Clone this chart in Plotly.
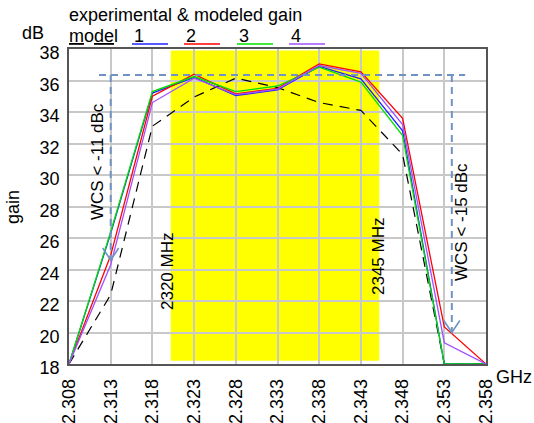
import plotly.graph_objects as go

# Frequency points (GHz) and gain (dB) for the four models plus measurement
freq_ghz = [2.308, 2.313, 2.318, 2.323, 2.328, 2.333, 2.338, 2.343, 2.348, 2.353, 2.358]
gain_model1 = [18, 26.3, 35.2, 36.2, 35.05, 35.4, 36.9, 36.1, 32.8, 18, 18]
gain_model2 = [18, 24.9, 35.0, 36.4, 35.15, 35.5, 37.05, 36.55, 33.6, 20.35, 18]
gain_model3 = [18, 26.4, 35.3, 36.25, 35.3, 35.65, 36.85, 35.9, 32.5, 18, 18]
gain_model4 = [18, 24.3, 34.6, 36.15, 35.1, 35.45, 36.95, 36.45, 33.2, 19.35, 18]
gain_measured = [18, 22.4, 33.1, 34.95, 36.15, 35.55, 34.6, 34.1, 31.3, 18, 18]

model_names = ["1", "2", "3", "4"]
model_colors = ["#2020ff", "#ff0000", "#00e000", "#a050ff"]

# Pass band and WCS limit markers
band_start_ghz, band_stop_ghz = 2.3202, 2.3452
band_low_db, band_high_db = 18.2, 37.9
wcs_level_db = 36.35
wcs_left = (2.3116, 2.313, 24.6)     # line start, arrow x, arrow tip (dB)
wcs_right = (2.3555, 2.3539, 20.0)

FONT = "Liberation Sans, Arial, sans-serif"
W, H = 534, 423
L, R, T, B = 69, 48, 49, 59
PW, PH = W - L - R, H - T - B


def px(x):
    return (x - L) / PW


def py(y):
    return (H - B - y) / PH


fig = go.Figure()

fig.add_trace(go.Scatter(x=freq_ghz, y=gain_measured, mode="lines",
                         line=dict(color="#000000", width=1.2, dash="10px,7px"),
                         showlegend=False))
for vals, col in zip([gain_model1, gain_model2, gain_model3, gain_model4], model_colors):
    fig.add_trace(go.Scatter(x=freq_ghz, y=vals, mode="lines",
                             line=dict(color=col, width=1.3), showlegend=False))

shapes = []
# yellow pass band
shapes.append(dict(type="rect", xref="x", yref="y", layer="below",
                   x0=band_start_ghz, x1=band_stop_ghz, y0=band_low_db, y1=band_high_db,
                   fillcolor="#ffff00", line=dict(width=0)))

dash_style = dict(color="#6f93c4", width=2, dash="7px,5px")
shapes.append(dict(type="line", xref="x", yref="y", x0=wcs_left[0], x1=wcs_right[0],
                   y0=wcs_level_db, y1=wcs_level_db, line=dash_style))
for _, ax_x, tip in (wcs_left, wcs_right):
    shapes.append(dict(type="line", xref="x", yref="y", x0=ax_x, x1=ax_x,
                       y0=wcs_level_db, y1=tip, line=dash_style))
    shapes.append(dict(type="path", xref="x", yref="y", xsizemode="pixel", ysizemode="pixel",
                       xanchor=ax_x, yanchor=tip, path="M -8,12 L 0,0 L 8,12",
                       line=dict(color="#6f93c4", width=1.6)))

# legend underlines
legend_x = [132, 184, 237, 289]
for lx, col in zip(legend_x, model_colors):
    shapes.append(dict(type="line", xref="paper", yref="paper", x0=px(lx), x1=px(lx + 36),
                       y0=py(44), y1=py(44), line=dict(color=col, width=1.3)))

annotations = []


def text(x, y, s, size=18, angle=0, xanchor="center"):
    annotations.append(dict(xref="paper", yref="paper", x=px(x), y=py(y), text=s,
                            showarrow=False, textangle=angle, xanchor=xanchor, yanchor="middle",
                            font=dict(family=FONT, size=size, color="#000000")))


text(67, 15, "experimental & modeled gain", xanchor="left")
text(67, 36, "<u>m</u>o<u>de</u>l", xanchor="left")
for lx, name in zip(legend_x, model_names):
    text(lx, 36, name, xanchor="left")
text(33, 33, "dB")
text(13, 207, "gain", angle=-90)
text(514, 377, "GHz")
text(97, 162, "WCS < -11 dBc", size=17, angle=-90)
text(461, 222, "WCS < -15 dBc", size=17, angle=-90)
text(167, 272, "2320 MHz", size=17, angle=-90)
text(378, 257, "2345 MHz", size=17, angle=-90)

fig.update_layout(
    width=W, height=H,
    margin=dict(l=L, r=R, t=T, b=B, autoexpand=False),
    paper_bgcolor="white", plot_bgcolor="white",
    font=dict(family=FONT, size=18, color="#000000"),
    shapes=shapes, annotations=annotations,
    xaxis=dict(range=[freq_ghz[0], freq_ghz[-1]], tick0=freq_ghz[0], dtick=0.005,
               tickformat=".3f", tickangle=-90, showgrid=True, gridcolor="#c8c8c8",
               gridwidth=1.5, showline=True, linecolor="#555555", linewidth=1.5,
               mirror=True, ticks="", zeroline=False, fixedrange=True,
               ticklabelstandoff=6, automargin=False),
    yaxis=dict(range=[18, 38], dtick=2, showgrid=True, gridcolor="#c8c8c8", gridwidth=1.5,
               showline=True, linecolor="#555555", linewidth=1.5, mirror=True, ticks="",
               zeroline=False, fixedrange=True, ticklabelshift=4, ticklabelstandoff=4,
               automargin=False),
)

fig.write_html("out.html")
